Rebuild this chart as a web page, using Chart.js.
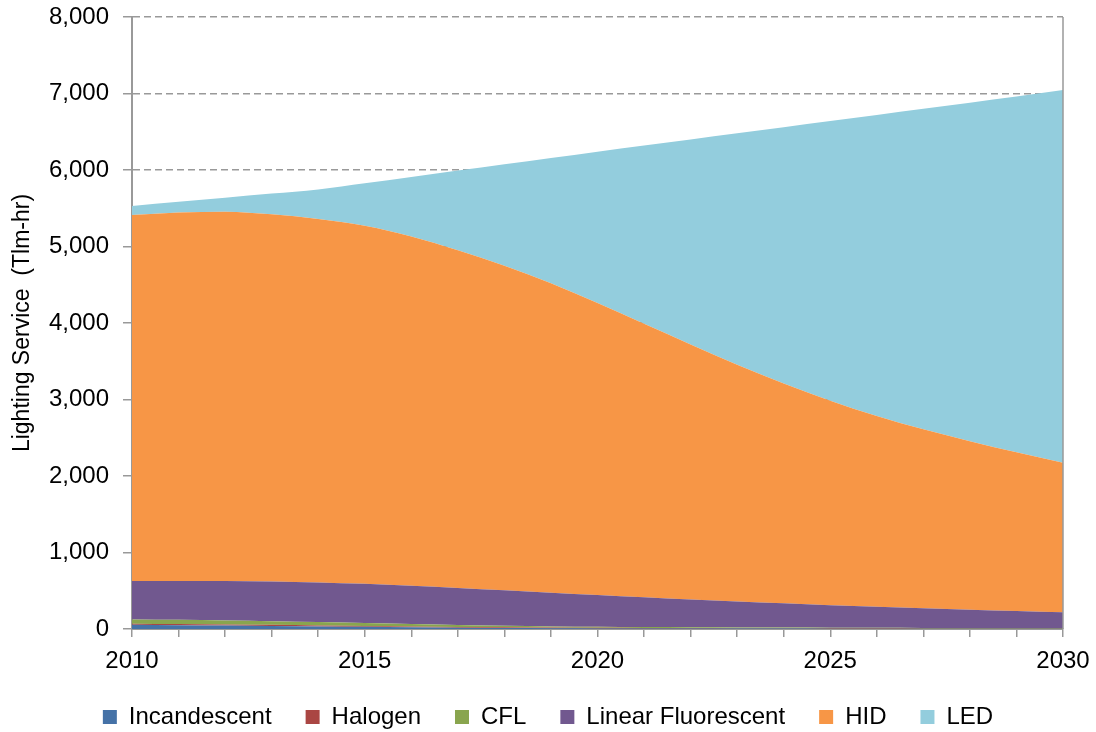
<!DOCTYPE html>
<html>
<head>
<meta charset="utf-8">
<script src="https://cdn.jsdelivr.net/npm/chart.js@4"></script>
<style>
  html, body { margin: 0; padding: 0; background: #fff; }
  #wrap { width: 1096px; height: 732px; }
</style>
</head>
<body>
<div id="wrap"><canvas id="lightChart"></canvas></div>
<script>
const years = ['2010', '2011', '2012', '2013', '2014', '2015', '2016', '2017', '2018', '2019', '2020',
  '2021', '2022', '2023', '2024', '2025', '2026', '2027', '2028', '2029', '2030'];

// Lighting service by technology (Tlm-hr)
const incandescent = [55, 50, 45, 40, 34, 28, 22, 17, 13, 10, 8, 7, 6, 5, 5, 4, 4, 3, 3, 3, 3];
const halogen = [15, 15, 14, 14, 13, 12, 11, 10, 9, 8, 7, 7, 6, 6, 5, 5, 5, 4, 4, 4, 4];
const cfl = [55, 55, 52, 48, 44, 38, 32, 26, 20, 16, 13, 11, 10, 9, 8, 8, 7, 7, 6, 6, 6];
const linearFluorescent = [502, 508, 516, 518, 517, 512, 500, 482, 463, 441, 417, 390, 363, 340, 317, 295, 274, 256, 239, 222, 205];
const hid = [4785, 4817, 4828, 4800, 4752, 4680, 4565, 4415, 4245, 4045, 3815, 3575, 3335, 3095, 2875, 2673, 2495, 2340, 2203, 2075, 1956];
const led = [118, 139, 183, 272, 386, 558, 780, 1042, 1324, 1636, 1980, 2330, 2680, 3025, 3350, 3655, 3935, 4190, 4425, 4650, 4871];

const yTicks = [0, 1000, 2000, 3000, 4000, 5000, 6000, 7000, 8000];

const seriesNames = ['Incandescent', 'Halogen', 'CFL', 'Linear Fluorescent', 'HID', 'LED'];
const seriesData = [incandescent, halogen, cfl, linearFluorescent, hid, led];
const seriesColors = ['#4572A7', '#AA4643', '#89A54E', '#71588F', '#F79646', '#93CDDD'];

const FONT = "'Liberation Sans', Arial, sans-serif";
const AXIS_GREY = '#999999';

// right-hand frame line of the plot area
const rightBorder = {
  id: 'rightBorder',
  afterDatasetsDraw(chart) {
    const { ctx, chartArea } = chart;
    ctx.save();
    ctx.strokeStyle = AXIS_GREY;
    ctx.lineWidth = 1.5;
    ctx.beginPath();
    ctx.moveTo(chartArea.right, chartArea.top);
    ctx.lineTo(chartArea.right, chartArea.bottom);
    ctx.stroke();
    ctx.restore();
  }
};

const ctx = document.getElementById('lightChart').getContext('2d');
new Chart(ctx, {
  type: 'line',
  data: {
    labels: years,
    datasets: seriesNames.map((name, i) => ({
      label: name,
      data: seriesData[i],
      backgroundColor: seriesColors[i],
      borderColor: seriesColors[i],
      borderWidth: 0,
      pointRadius: 0,
      fill: i === 0 ? 'origin' : '-1',
      cubicInterpolationMode: 'monotone'
    }))
  },
  options: {
    responsive: true,
    maintainAspectRatio: false,
    animation: false,
    layout: { padding: { top: 17, right: 0, bottom: -7, left: 0 } },
    plugins: {
      legend: {
        position: 'bottom',
        labels: {
          font: { family: FONT, size: 24 },
          color: '#000',
          boxWidth: 14,
          boxHeight: 14,
          padding: 34
        }
      },
      tooltip: { enabled: false }
    },
    scales: {
      x: {
        offset: false,
        afterFit: (scale) => {
          scale.height = 42;
          scale.paddingLeft = 0;
          scale.paddingRight = 33;
        },
        grid: {
          drawOnChartArea: false,
          color: AXIS_GREY,
          lineWidth: 1.5,
          tickLength: 8
        },
        border: { color: AXIS_GREY, width: 2 },
        ticks: {
          autoSkip: false,
          maxRotation: 0,
          padding: 10,
          color: '#000',
          font: { family: FONT, size: 24 },
          callback: (val, i) => (i % 5 === 0 ? years[i] : '')
        }
      },
      y: {
        stacked: true,
        min: 0,
        max: 8000,
        afterBuildTicks: (scale) => { scale.ticks = yTicks.map(v => ({ value: v })); },
        afterFit: (scale) => {
          scale.width = 132;
          scale.paddingTop = 0;
          scale.paddingBottom = 0;
        },
        grid: {
          color: AXIS_GREY,
          lineWidth: 1.5,
          tickBorderDash: [],
          tickLength: 9
        },
        border: { color: AXIS_GREY, width: 2, dash: [7, 4] },
        ticks: {
          padding: 14,
          color: '#000',
          font: { family: FONT, size: 24 },
          callback: (v) => v.toLocaleString('en-US')
        },
        title: {
          display: true,
          text: 'Lighting Service  (Tlm-hr)',
          color: '#000',
          font: { family: FONT, size: 23 },
          padding: { top: 9, bottom: 4 }
        }
      }
    }
  },
  plugins: [rightBorder]
});
</script>
</body>
</html>
